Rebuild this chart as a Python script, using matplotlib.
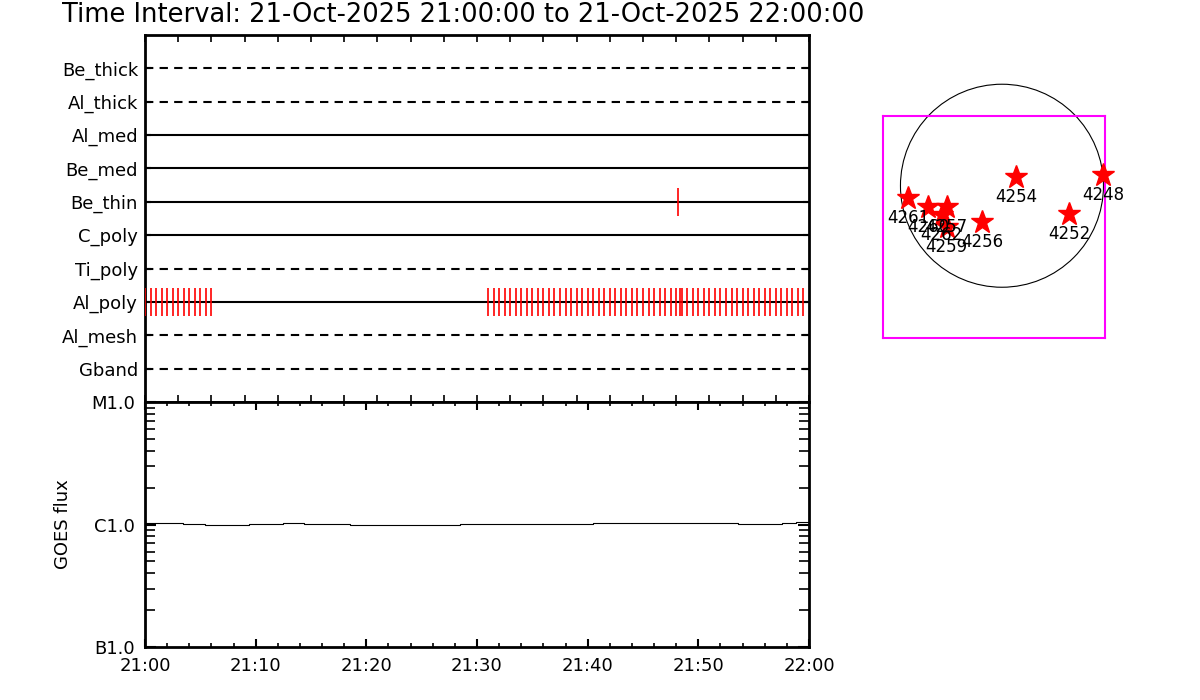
"""
Hinode XRT style timeline: filter usage per exposure, GOES flux and AR map.
"""

import matplotlib
matplotlib.use("Agg")
import matplotlib.pyplot as plt
from matplotlib.patches import Circle

# ==========================================
# DATA
# ==========================================
TITLE = "Time Interval: 21-Oct-2025 21:00:00 to 21-Oct-2025 22:00:00"

FILTERS = ["Be_thick", "Al_thick", "Al_med", "Be_med", "Be_thin",
           "C_poly", "Ti_poly", "Al_poly", "Al_mesh", "Gband"]
FILTER_DASHED = [True, True, False, False, False, False, True, False, True, True]

# exposure times, minutes after 21:00
BE_THIN_EXP = [48.15]
AL_POLY_EXP = [
    0.0, 0.5, 1.0, 1.5, 2.0, 2.5, 3.0, 3.5, 4.0, 4.5, 5.0, 5.5, 6.0,
    31.0, 31.5, 32.0, 32.5, 33.0, 33.5, 34.0, 34.5, 35.0, 35.5,
    36.0, 36.5, 37.0, 37.5, 38.0, 38.5, 39.0, 39.5, 40.0, 40.5,
    41.0, 41.5, 42.0, 42.5, 43.0, 43.5, 44.0, 44.5, 45.0, 45.5,
    46.0, 46.5, 47.0, 47.5, 48.0, 48.3, 48.5, 49.0, 49.5, 50.0, 50.5,
    51.0, 51.5, 52.0, 52.5, 53.0, 53.5, 54.0, 54.5, 55.0, 55.5,
    56.0, 56.5, 57.0, 57.5, 58.0, 58.5, 59.0, 59.5,
]

# GOES 1-8 A flux (W/m^2), minutes after 21:00
GOES_MIN = [0, 3.4, 5.4, 9.4, 12.5, 14.4, 18.5, 28.5, 40.5, 53.6, 57.6, 58.8, 60]
GOES_FLUX = [1.024e-6, 1.016e-6, 0.984e-6, 1.016e-6, 1.032e-6, 1.016e-6,
             0.984e-6, 1.008e-6, 1.032e-6, 1.008e-6, 1.032e-6, 1.05e-6, 1.05e-6]
GOES_TICKS = [1e-7, 1e-6, 1e-5]
GOES_LABELS = ["B1.0", "C1.0", "M1.0"]

TIME_TICKS = [0, 10, 20, 30, 40, 50, 60]
TIME_LABELS = ["21:00", "21:10", "21:20", "21:30", "21:40", "21:50", "22:00"]

# active regions, solar radii from disk centre
AR_NUM = ["4261", "4260", "4257", "4262", "4259", "4256", "4254", "4252", "4248"]
AR_X = [-0.926, -0.729, -0.545, -0.594, -0.545, -0.197, 0.138, 0.660, 0.995]
AR_Y = [-0.121, -0.210, -0.213, -0.286, -0.410, -0.358, 0.086, -0.279, 0.105]

FS = 13

fig = plt.figure(figsize=(12, 7), dpi=100)
fig.text(62 / 1200, 1 - 15 / 700, TITLE, ha="left", va="center", fontsize=18.5)

# ---- filter timeline ----
ax = fig.add_axes([145 / 1200, 1 - 402 / 700, 664 / 1200, 367 / 700])
n = len(FILTERS)
rows = list(range(n, 0, -1))
for name, y, dashed in zip(FILTERS, rows, FILTER_DASHED):
    ls = (0, (4, 3)) if dashed else "-"
    ax.plot([0, 60], [y, y], color="black", lw=1.5, ls=ls, zorder=2)
row_of = dict(zip(FILTERS, rows))
ax.vlines(AL_POLY_EXP, row_of["Al_poly"] - 0.42, row_of["Al_poly"] + 0.42,
          color="red", lw=1.2, zorder=3)
ax.vlines(BE_THIN_EXP, row_of["Be_thin"] - 0.42, row_of["Be_thin"] + 0.42,
          color="red", lw=1.2, zorder=3)
ax.set_xlim(0, 60)
ax.set_ylim(0, n + 1)
ax.set_yticks(rows)
ax.set_yticklabels(FILTERS, fontsize=FS)
ax.set_xticks(list(range(0, 61, 3)))
ax.set_xticklabels([])
ax.tick_params(axis="y", direction="in", length=4, width=1.5, left=True, right=True, pad=5)
ax.tick_params(axis="x", direction="in", length=5, width=1.2, top=True, bottom=True)
for sp in ax.spines.values():
    sp.set_linewidth(2)

# ---- GOES panel ----
gx = fig.add_axes([145 / 1200, 1 - 647 / 700, 664 / 1200, 245 / 700])
gx.plot(GOES_MIN, GOES_FLUX, color="black", lw=0.8, drawstyle="steps-post")
gx.set_yscale("log")
gx.set_ylim(1e-7, 1e-5)
gx.set_xlim(0, 60)
gx.set_yticks(GOES_TICKS)
gx.set_yticklabels(GOES_LABELS, fontsize=FS)
gx.set_xticks(TIME_TICKS)
gx.set_xticklabels(TIME_LABELS, fontsize=FS)
gx.set_xticks(list(range(2, 60, 2)), minor=True)
gx.set_ylabel("GOES flux", fontsize=FS, labelpad=14)
gx.tick_params(which="major", direction="in", length=6, width=1.5,
               top=True, right=True, pad=7)
gx.tick_params(which="minor", direction="in", length=3, width=1.2,
               top=True, right=True)
gx.tick_params(axis="y", which="minor", length=7)
gx.tick_params(axis="y", which="major", length=8)
for sp in gx.spines.values():
    sp.set_linewidth(2)

# ---- active region map ----
mx = fig.add_axes([882.7 / 1200, 1 - 338.3 / 700, 222.6 / 1200, 222.3 / 700])
mx.set_xlim(-1.175, 1.018)
mx.set_ylim(-1.503, 0.687)
mx.add_patch(Circle((0, 0), 1.0, fill=False, ec="black", lw=0.8, clip_on=False))
mx.plot(AR_X, AR_Y, ls="none", marker="*", ms=17, color="red", clip_on=False, zorder=3)
for num, x, y in zip(AR_NUM, AR_X, AR_Y):
    mx.annotate(num, (x, y), xytext=(0, -14.5), textcoords="offset points",
                ha="center", va="center", fontsize=12, zorder=4, annotation_clip=False)
mx.set_xticks([])
mx.set_yticks([])
for sp in mx.spines.values():
    sp.set_color("#ff00ff")
    sp.set_linewidth(1.5)

fig.savefig("out.png", dpi=100)
